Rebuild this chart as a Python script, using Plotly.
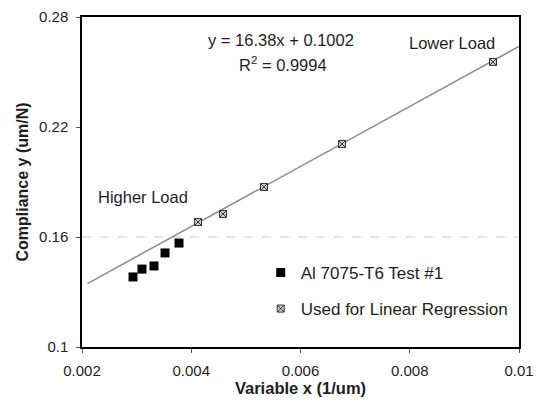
import plotly.graph_objects as go

# Data
test_x = [0.002934, 0.003098, 0.003318, 0.003520, 0.003776]
test_y = [0.1382, 0.1425, 0.1442, 0.1513, 0.1567]
reg_x = [0.004124, 0.004581, 0.005332, 0.006760, 0.009524]
reg_y = [0.1682, 0.1726, 0.1873, 0.2107, 0.2555]
slope = 16.38
intercept = 0.1002
fit_x = [0.0021, 0.0100]
fit_y = [slope * v + intercept for v in fit_x]
x_ticks = [0.002, 0.004, 0.006, 0.008, 0.01]
x_tick_labels = ["0.002", "0.004", "0.006", "0.008", "0.01"]
y_ticks = [0.1, 0.16, 0.22, 0.28]
y_tick_labels = ["0.1", "0.16", "0.22", "0.28"]

FONT = "Liberation Sans, Arial, sans-serif"
TXT = "#1e1e1e"

fig = go.Figure()
fig.add_trace(go.Scatter(x=fit_x, y=fit_y, mode="lines",
                         line=dict(color="#8a8a8a", width=1.5),
                         showlegend=False, hoverinfo="skip"))
fig.add_trace(go.Scatter(x=test_x, y=test_y, mode="markers", name="Al 7075-T6 Test #1",
                         legendgroup="a",
                         marker=dict(symbol="square", size=9, color="black")))
fig.add_trace(go.Scatter(x=reg_x, y=reg_y, mode="markers", name="Used for Linear Regression",
                         legendgroup="b",
                         marker=dict(symbol="square-x", size=7, color="#d0d0d0",
                                     line=dict(color="#333333", width=1))))

fig.add_hline(y=0.16, line=dict(color="#c8c8c8", width=1, dash="dash"), layer="below")

ann_font = dict(family=FONT, size=16.5, color=TXT)
fig.add_annotation(x=0.00565, y=0.2675, xref="x", yref="y",
                   text="y = 16.38x + 0.1002", showarrow=False, font=ann_font)
fig.add_annotation(x=0.00568, y=0.2544, xref="x", yref="y",
                   text="R<sup>2</sup> = 0.9994", showarrow=False, font=ann_font)
fig.add_annotation(x=0.00877, y=0.2658, xref="x", yref="y", text="Lower Load",
                   showarrow=False, font=ann_font)
fig.add_annotation(x=0.00312, y=0.1818, xref="x", yref="y", text="Higher Load",
                   showarrow=False, font=ann_font)

fig.update_layout(
    width=536, height=404,
    margin=dict(l=82, r=17, t=17, b=57),
    paper_bgcolor="white", plot_bgcolor="white",
    font=dict(family=FONT, size=15, color=TXT),
    legend=dict(x=0.409, y=0.279, xanchor="left", yanchor="top",
                bgcolor="rgba(0,0,0,0)", tracegroupgap=11,
                font=dict(family=FONT, size=17, color=TXT), itemwidth=30),
    xaxis=dict(range=[0.002, 0.01], tickvals=x_ticks, ticktext=x_tick_labels,
               showgrid=False, zeroline=False, showline=True, mirror=True,
               linecolor="black", linewidth=1.5, ticks="outside", ticklen=4,
               tickcolor="#555", automargin=False, ticklabelstandoff=5,
               tickfont=dict(family=FONT, size=15, color=TXT),
               title=dict(text="<b>Variable x (1/um)</b>", standoff=2,
                          font=dict(family=FONT, size=16.5, color=TXT))),
    yaxis=dict(range=[0.1, 0.28], tickvals=y_ticks, ticktext=y_tick_labels,
               showgrid=False, zeroline=False, showline=True, mirror=True,
               linecolor="black", linewidth=1.5, ticks="outside", ticklen=4,
               tickcolor="#555", automargin=False, ticklabelstandoff=5,
               tickfont=dict(family=FONT, size=15, color=TXT),
               title=dict(text="<b>Compliance y (um/N)</b>", standoff=6,
                          font=dict(family=FONT, size=16, color=TXT))),
)

fig.write_html("out.html", config={"displayModeBar": False},
               post_script="document.body.style.margin='0';document.body.style.overflow='hidden';")
